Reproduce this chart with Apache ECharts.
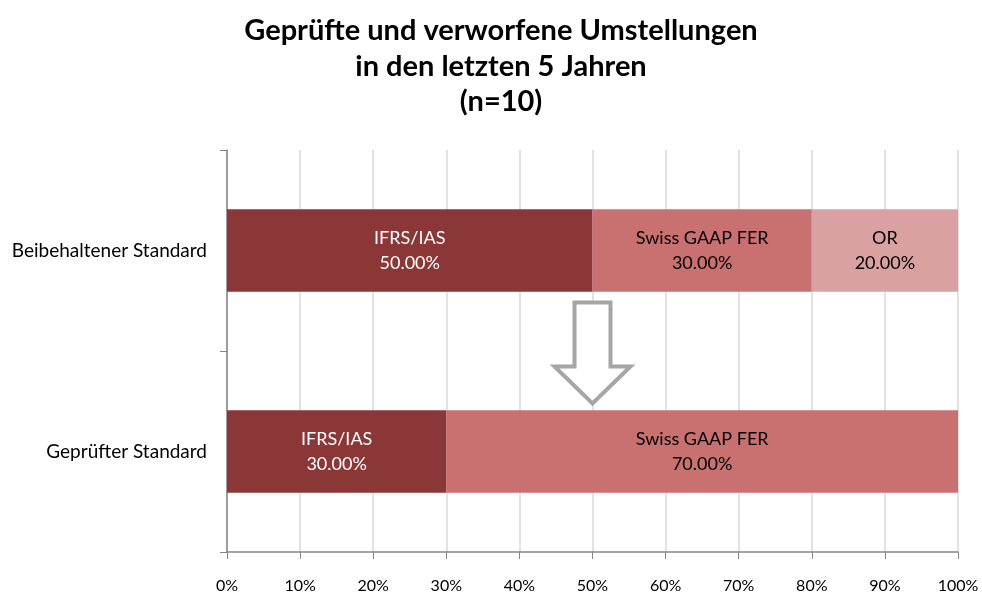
<!DOCTYPE html>
<html>
<head>
<meta charset="utf-8">
<script src="https://cdn.jsdelivr.net/npm/echarts@6/dist/echarts.min.js"></script>
<style>
  html, body { margin: 0; padding: 0; background: #fff; }
  #chart { width: 982px; height: 597px; }
</style>
</head>
<body>
<div id="chart"></div>
<script>
'use strict';
const categories = ['Beibehaltener Standard', 'Geprüfter Standard'];
const ifrsValues = [50, 30];
const swissValues = [30, 70];
const orValues = [20, 0];
const xTicks = [0, 10, 20, 30, 40, 50, 60, 70, 80, 90, 100];

const font = 'Lato, "Open Sans", sans-serif';

const genLabel = (name, color) => ({
    show: true,
    position: 'inside',
    color: color,
    fontFamily: font,
    fontSize: 18,
    lineHeight: 25,
    formatter: p => p.value > 0 ? `${name}\n${p.value.toFixed(2)}%` : ''
});

const genSeries = (name, data, color, labelColor) => ({
    name: name,
    type: 'bar',
    stack: 'total',
    barWidth: '41%',
    data: data,
    itemStyle: { color: color },
    label: genLabel(name, labelColor),
    silent: true
});

const myChart = echarts.init(document.getElementById('chart'));
myChart.setOption({
    animation: false,
    title: {
        text: 'Geprüfte und verworfene Umstellungen\nin den letzten 5 Jahren\n(n=10)',
        left: 496,
        textAlign: 'center',
        top: 8,
        textStyle: {
            fontFamily: font,
            fontWeight: 'bold',
            fontSize: 29,
            lineHeight: 35.5,
            color: '#000'
        }
    },
    grid: { left: 227, right: 24, top: 150, bottom: 45, containLabel: false },
    xAxis: {
        type: 'value',
        min: xTicks[0],
        max: xTicks[xTicks.length - 1],
        interval: 10,
        axisLine: { show: true, lineStyle: { color: '#868686', width: 1.5 } },
        axisTick: { show: true, length: 7, lineStyle: { color: '#868686' } },
        axisLabel: {
            margin: 26,
            color: '#000',
            fontFamily: font,
            fontSize: 16,
            formatter: v => `${v}%`
        },
        splitLine: { show: true, lineStyle: { color: '#D9D9D9', width: 1.5 } }
    },
    yAxis: {
        type: 'category',
        data: categories,
        inverse: true,
        axisLine: { show: true, lineStyle: { color: '#868686', width: 1.5 } },
        axisTick: { show: true, length: 7, lineStyle: { color: '#868686' } },
        axisLabel: {
            margin: 20,
            color: '#000',
            fontFamily: font,
            fontSize: 19
        }
    },
    series: [
        genSeries('IFRS/IAS', ifrsValues, '#8B3737', '#fff'),
        genSeries('Swiss GAAP FER', swissValues, '#C87170', '#000'),
        genSeries('OR', orValues, '#D9A1A1', '#000')
    ]
});

// outline arrow between the two bars, at the 50% gridline
const drawArrow = () => {
    const cx = myChart.convertToPixel({ xAxisIndex: 0 }, 50);
    const top = myChart.convertToPixel({ yAxisIndex: 0 }, categories[0]) + 52;
    const bottom = myChart.convertToPixel({ yAxisIndex: 0 }, categories[1]) - 48;
    const shaft = 18, head = 38, headH = 37;
    const points = [
        [cx - shaft, top], [cx + shaft, top], [cx + shaft, bottom - headH],
        [cx + head, bottom - headH], [cx, bottom], [cx - head, bottom - headH],
        [cx - shaft, bottom - headH]
    ];
    myChart.setOption({
        graphic: [{
            type: 'polygon',
            shape: { points: points },
            style: { fill: '#fff', stroke: '#A6A6A6', lineWidth: 4 },
            z: 10
        }]
    });
};
drawArrow();
</script>
</body>
</html>
